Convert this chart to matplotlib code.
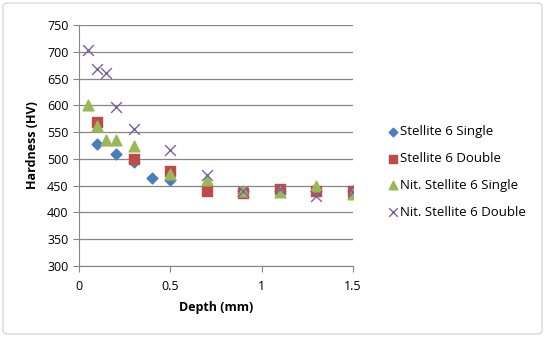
import matplotlib
matplotlib.use("Agg")
import matplotlib.pyplot as plt
from matplotlib.patches import FancyBboxPatch

plt.rcParams['font.family'] = ['Open Sans', 'DejaVu Sans']

s1_x = [0.1, 0.2, 0.3, 0.4, 0.5, 0.7, 0.9, 1.1, 1.3, 1.5]
s1_y = [528, 510, 495, 465, 460, 450, 440, 440, 440, 440]
s2_x = [0.1, 0.3, 0.5, 0.7, 0.9, 1.1, 1.3, 1.5]
s2_y = [568, 500, 478, 440, 437, 444, 440, 440]
n1_x = [0.05, 0.1, 0.15, 0.2, 0.3, 0.5, 0.7, 0.9, 1.1, 1.3, 1.5]
n1_y = [600, 562, 535, 535, 525, 472, 460, 440, 438, 450, 434]
n2_x = [0.05, 0.1, 0.15, 0.2, 0.3, 0.5, 0.7, 0.9, 1.1, 1.3, 1.5]
n2_y = [703, 668, 660, 596, 556, 517, 470, 440, 444, 430, 438]
labels = ['Stellite 6 Single', 'Stellite 6 Double', 'Nit. Stellite 6 Single', 'Nit. Stellite 6 Double']

W, H = 545, 337
fig = plt.figure(figsize=(W/100, H/100), dpi=100)
fig.patches.append(FancyBboxPatch((3/W, 3/H), 1-6/W, 1-6/H, boxstyle="round,pad=0,rounding_size=0.01",
                                  transform=fig.transFigure, fill=False, edgecolor='#d9d9d9', linewidth=1))
ax = fig.add_axes([79/W, 1-266/H, (353-79)/W, (266-25)/H])

ax.scatter(s1_x, s1_y, marker='D', s=30, color='#4a7ebb', label=labels[0], zorder=3)
ax.scatter(s2_x, s2_y, marker='s', s=60, color='#be4b48', label=labels[1], zorder=3)
ax.scatter(n1_x, n1_y, marker='^', s=60, color='#98b954', label=labels[2], zorder=4)
ax.scatter(n2_x, n2_y, marker='x', s=60, color='#7d60a0', linewidths=1, label=labels[3], zorder=5)

ax.set_xlim(0, 1.5)
ax.set_ylim(300, 750)
ax.set_xticks([0, 0.5, 1, 1.5])
ax.set_xticklabels(['0', '0.5', '1', '1.5'])
ax.set_yticks(range(300, 751, 50))
ax.grid(axis='y', color='#868686', linewidth=0.9)
ax.set_axisbelow(True)
for sp in ['top', 'right']:
    ax.spines[sp].set_visible(False)
for sp in ['left', 'bottom']:
    ax.spines[sp].set_color('#868686')
ax.tick_params(axis='both', labelsize=9, length=4, color='#868686', direction='out')
ax.tick_params(axis='x', pad=6)
ax.set_xlabel('Depth (mm)', fontsize=9, fontweight='bold', labelpad=6)
ax.set_ylabel('Hardness (HV)', fontsize=9, fontweight='bold', labelpad=6)

ax.legend(loc='center left', bbox_to_anchor=(382/W, 1-172/H), bbox_transform=fig.transFigure,
          frameon=False, fontsize=9.5, handletextpad=0.05, labelspacing=1.05, handlelength=0.9,
          borderaxespad=0, markerscale=0.8)

fig.savefig('out.png', dpi=100)
